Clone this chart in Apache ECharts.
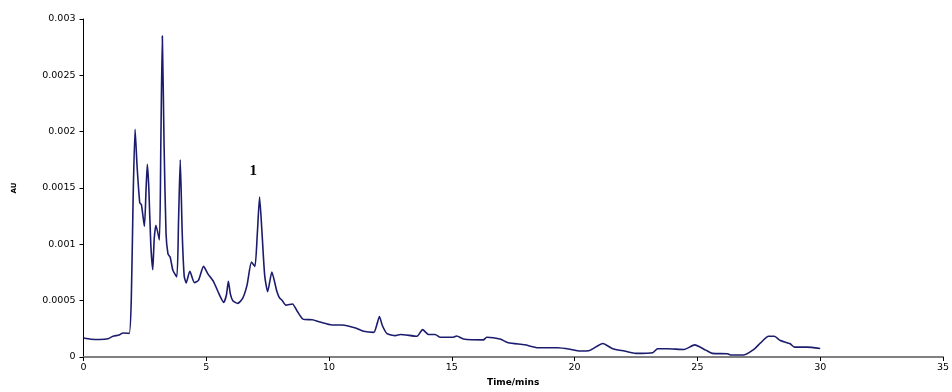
<!DOCTYPE html>
<html>
<head>
<meta charset="utf-8">
<script src="https://cdn.jsdelivr.net/npm/echarts@6/dist/echarts.min.js"></script>
<style>html,body{margin:0;padding:0;background:#fff}#c{width:952px;height:392px}</style>
</head>
<body>
<div id="c"></div>
<script>
// Retention time (minutes)
const timeMins = [
  0, 0.3, 0.67, 1.0, 1.2, 1.45, 1.61, 1.86, 1.95, 2.02, 2.1, 2.18, 2.29, 2.36, 2.48, 2.55, 2.6, 2.66, 2.74, 2.82,
  2.88, 2.95, 3.09, 3.15, 3.21, 3.28, 3.36, 3.44, 3.53, 3.64, 3.8, 3.87, 3.94, 4.02, 4.1, 4.18, 4.33, 4.52, 4.68, 4.89,
  5.06, 5.3, 5.51, 5.71, 5.82, 5.9, 5.98, 6.08, 6.28, 6.48, 6.66, 6.84, 6.98, 7.08, 7.17, 7.27, 7.38, 7.5, 7.67, 7.87,
  7.97, 8.1, 8.24, 8.51, 8.71, 8.94, 9.32, 9.59, 10.13, 10.54, 11.08, 11.41, 11.82, 11.95, 12.05, 12.17, 12.36, 12.7, 12.9, 13.58,
  13.81, 14.05, 14.32, 14.53, 15.06, 15.2, 15.47, 16.28, 16.42, 16.96, 17.3, 17.97, 18.51, 19.32, 19.86, 20.2, 20.61, 21.15, 21.55, 22.03,
  22.5, 23.18, 23.38, 23.78, 24.46, 24.89, 25.34, 25.61, 26.22, 26.35, 26.89, 27.3, 27.57, 27.9, 28.13, 28.38, 28.78, 28.95, 29.46, 30.0
];
// Absorbance (AU)
const absorbance = [
  0.000169, 0.000158, 0.000155, 0.000162, 0.000184, 0.000195, 0.000213, 0.00021, 0.00055, 0.0014, 0.00202, 0.0017, 0.00137, 0.00135, 0.00116, 0.0015, 0.00171, 0.0015, 0.001, 0.000775,
  0.00105, 0.00117, 0.00104, 0.0019, 0.00285, 0.0019, 0.0011, 0.000915, 0.000886, 0.00077, 0.00071, 0.0012, 0.00175, 0.0011, 0.00072, 0.000658, 0.00076, 0.00066, 0.00068, 0.000804,
  0.00074, 0.000667, 0.000564, 0.000485, 0.00055, 0.000673, 0.00056, 0.0005, 0.000476, 0.00052, 0.000638, 0.000842, 0.000804, 0.0011, 0.00142, 0.0011, 0.00072, 0.00058, 0.000754, 0.000585,
  0.00053, 0.0005, 0.00046, 0.000471, 0.000404, 0.000336, 0.00033, 0.000313, 0.000284, 0.000284, 0.000257, 0.000228, 0.000219, 0.00029, 0.00036, 0.00028, 0.000208, 0.00019, 0.0002, 0.000184,
  0.000243, 0.0002, 0.0002, 0.000175, 0.000175, 0.000187, 0.00016, 0.000152, 0.000175, 0.00016, 0.000126, 0.000108, 0.000082, 0.000082, 0.000067, 0.000053, 0.000058, 0.00012, 0.000073, 0.000053,
  0.000032, 0.000038, 0.000073, 0.000073, 0.000067, 0.000108, 0.000061, 0.000032, 0.000029, 0.000018, 0.000018, 0.000067, 0.000125, 0.000184, 0.000184, 0.000146, 0.000117, 0.000088, 0.000088, 0.000076
];
const xTicks = [0, 5, 10, 15, 20, 25, 30, 35];
const yTicks = ['0', '0.0005', '0.001', '0.0015', '0.002', '0.0025', '0.003'];
const peakLabel = { text: '1', time: 6.91, au: 0.00165 };

const chart = echarts.init(document.getElementById('c'));
const font = 'DejaVu Sans, Liberation Sans, Arial, sans-serif';
chart.setOption({
  animation: false,
  backgroundColor: '#ffffff',
  grid: { left: 83.5, right: 5.3, top: 19, bottom: 31, containLabel: false },
  xAxis: {
    type: 'value', min: 0, max: 35, interval: 5,
    name: 'Time/mins', nameLocation: 'middle', nameGap: 21,
    nameTextStyle: { fontFamily: font, fontSize: 9, fontWeight: 'bold', color: '#000' },
    axisLine: { lineStyle: { color: '#808080', width: 2 } },
    axisTick: { show: true, length: 4, lineStyle: { color: '#000', width: 1 } },
    axisLabel: { fontFamily: font, fontSize: 9.5, color: '#000', margin: 6,
      formatter: v => xTicks.indexOf(v) >= 0 ? String(v) : '' },
    splitLine: { show: false }
  },
  yAxis: {
    type: 'value', min: 0, max: 0.003, interval: 0.0005,
    name: 'AU', nameLocation: 'middle', nameGap: 66, nameRotate: 90,
    nameTextStyle: { fontFamily: font, fontSize: 7, fontWeight: 'bold', color: '#000' },
    axisLine: { show: true, lineStyle: { color: '#000', width: 1 } },
    axisTick: { show: true, length: 4, lineStyle: { color: '#000', width: 1 } },
    axisLabel: { fontFamily: font, fontSize: 9.5, color: '#000', margin: 8,
      formatter: v => { const i = Math.round(v / 0.0005); return yTicks[i] !== undefined ? yTicks[i] : ''; } },
    splitLine: { show: false }
  },
  series: [{
    type: 'line',
    data: timeMins.map((t, i) => [t, absorbance[i]]),
    showSymbol: false,
    smooth: 0.2,
    lineStyle: { color: '#1c1c6e', width: 1.6 },
    markPoint: {
      symbol: 'circle', symbolSize: 0,
      label: { show: true, position: 'inside', formatter: peakLabel.text,
        fontFamily: 'Liberation Serif, DejaVu Serif, serif', fontSize: 15, fontWeight: 'bold', color: '#000' },
      data: [{ coord: [peakLabel.time, peakLabel.au] }]
    }
  }]
});
</script>
</body>
</html>
